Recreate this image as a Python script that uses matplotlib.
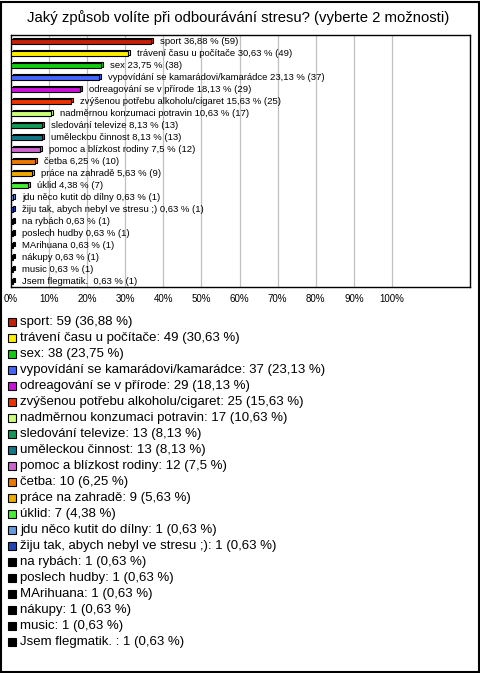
import matplotlib
matplotlib.use("Agg")
import matplotlib.pyplot as plt
from matplotlib.patches import Rectangle

plt.rcParams['font.family'] = ['Liberation Sans', 'DejaVu Sans']

title = "Jaký způsob volíte při odbourávání stresu? (vyberte 2 možnosti)"
categories = [
    "sport", "trávení času u počítače", "sex", "vypovídání se kamarádovi/kamarádce",
    "odreagování se v přírode", "zvýšenou potřebu alkoholu/cigaret",
    "nadměrnou konzumaci potravin", "sledování televize", "uměleckou činnost",
    "pomoc a blízkost rodiny", "četba", "práce na zahradě", "úklid",
    "jdu něco kutit do dílny", "žiju tak, abych nebyl ve stresu ;)", "na rybách",
    "poslech hudby", "MArihuana", "nákupy", "music", "Jsem flegmatik. ",
]
counts = [59, 49, 38, 37, 29, 25, 17, 13, 13, 12, 10, 9, 7, 1, 1, 1, 1, 1, 1, 1, 1]
percents = [36.88, 30.63, 23.75, 23.13, 18.13, 15.63, 10.63, 8.13, 8.13, 7.5, 6.25,
            5.63, 4.38, 0.63, 0.63, 0.63, 0.63, 0.63, 0.63, 0.63, 0.63]
colors = ["#C82008", "#FFEE00", "#11CC11", "#4466FF", "#CC11DD", "#EE3300", "#CCFF77",
          "#119955", "#117788", "#CC66CC", "#EE7700", "#EEAA00", "#44EE33", "#6699DD",
          "#2244BB", "#000000", "#000000", "#000000", "#000000", "#000000", "#000000"]
xticks = list(range(0, 101, 10))
xticklabels = [f"{t}%" for t in xticks]


def fmt(p):
    return f"{p:g}".replace(".", ",")


W, H = 480, 673
fig = plt.figure(figsize=(W / 100, H / 100), dpi=100)
fig.patch.set_facecolor("white")

ax_left, ax_right, ax_top, ax_bot = 11, 470, 35, 287
ax = fig.add_axes([ax_left / W, 1 - ax_bot / H, (ax_right - ax_left) / W, (ax_bot - ax_top) / H])

n = len(categories)
ypos = list(range(n))
px_per_unit = (ax_right - ax_left) / 120.5
dx = 2.0 / px_per_unit
dy = 1.5 / 12.0
h = 0.38
ax.set_xlim(0, 120.5)
ax.set_ylim(n - 0.5, -0.5)

for x in xticks[1:]:
    ax.axvline(x, color="#C0C0C0", lw=0.9, zorder=0)

ax.barh([y + 0.06 - dy for y in ypos], percents, left=dx, height=h, color=colors,
        edgecolor="black", linewidth=0.8, zorder=2)
ax.barh([y + 0.06 for y in ypos], percents, height=h, color=colors,
        edgecolor="black", linewidth=0.8, zorder=3)

for y, c, p, k in zip(ypos, categories, percents, counts):
    ax.annotate(f"{c} {fmt(p)} % ({k})", xy=(p, y), xytext=(9, 0), textcoords="offset pixels",
                ha="left", va="center", fontsize=6.8, zorder=4)

ax.set_xticks(xticks)
ax.set_xticklabels(xticklabels, fontsize=7)
ax.tick_params(axis="x", length=0, pad=5)
ax.set_yticks([])
for s in ax.spines.values():
    s.set_color("black")
    s.set_linewidth(1.0)

fig.text(238 / W, 1 - 18 / H, title, ha="center", va="center", fontsize=10.7)

# legend
for i, (c, p, k, col) in enumerate(zip(categories, percents, counts, colors)):
    yc = 322 + 16 * i
    fig.patches.append(Rectangle((8 / W, 1 - (yc + 4) / H), 8 / W, 8 / H, transform=fig.transFigure,
                                 facecolor=col, edgecolor="black", linewidth=0.8))
    fig.text(20 / W, 1 - yc / H, f"{c}: {k} ({fmt(p)} %)", ha="left", va="center", fontsize=9.5)

fig.patches.append(Rectangle((1 / W, 1 / H), (W - 2.5) / W, (H - 2.5) / H, transform=fig.transFigure,
                             fill=False, edgecolor="black", linewidth=1.5))

fig.savefig("out.png", dpi=100)
